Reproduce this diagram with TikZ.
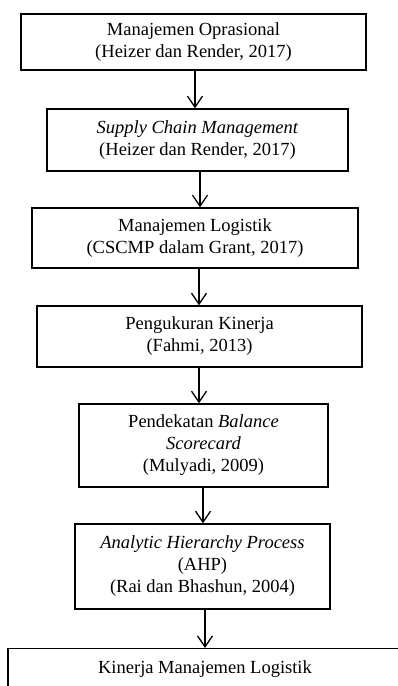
\documentclass[tikz,border=0pt]{standalone}
\usepackage{fontspec}
\setmainfont{Liberation Serif}
\usetikzlibrary{arrows.meta}
\begin{document}
\begin{tikzpicture}[x=1pt,y=-1pt,
  box/.style={draw, line width=1.4pt, align=center, inner sep=0pt,
    font=\fontsize{18.5}{22}\selectfont},
  arr/.style={-{Straight Barb[length=11pt,width=15pt,line width=1.3pt]}, line width=1.3pt}]
\useasboundingbox (0,0) rectangle (397,686);
\node[box, minimum width=345pt, minimum height=56pt] (b1) at (193.5,42)
  {Manajemen Oprasional\\(Heizer dan Render, 2017)};
\node[box, minimum width=301pt, minimum height=62pt] (b2) at (197.5,140)
  {\textit{Supply Chain Management}\\(Heizer dan Render, 2017)};
\node[box, minimum width=326pt, minimum height=60pt] (b3) at (195,238)
  {Manajemen Logistik\\(CSCMP dalam Grant, 2017)};
\node[box, minimum width=325pt, minimum height=61pt] (b4) at (199.5,336.5)
  {Pengukuran Kinerja\\(Fahmi, 2013)};
\node[box, minimum width=249pt, minimum height=83pt] (b5) at (203.5,445.5)
  {Pendekatan \textit{Balance}\\\textit{Scorecard}\\(Mulyadi, 2009)};
\node[box, minimum width=255pt, minimum height=85pt] (b6) at (202.5,566.5)
  {\textit{Analytic Hierarchy Process}\\(AHP)\\(Rai dan Bhashun, 2004)};
\node[box, anchor=north, minimum width=394pt, inner ysep=12pt, text depth=60pt] (b7) at (205,648)
  {Kinerja Manajemen Logistik};
\coordinate (x1) at (195,0);
\coordinate (x2) at (200,0);
\coordinate (x3) at (199,0);
\coordinate (x4) at (199,0);
\coordinate (x5) at (203,0);
\coordinate (x6) at (205,0);
\draw[arr] (b1.south -| x1) -- (b2.north -| x1);
\draw[arr] (b2.south -| x2) -- (b3.north -| x2);
\draw[arr] (b3.south -| x3) -- (b4.north -| x3);
\draw[arr] (b4.south -| x4) -- (b5.north -| x4);
\draw[arr] (b5.south -| x5) -- (b6.north -| x5);
\draw[arr] (b6.south -| x6) -- (b7.north -| x6);
\end{tikzpicture}
\end{document}
